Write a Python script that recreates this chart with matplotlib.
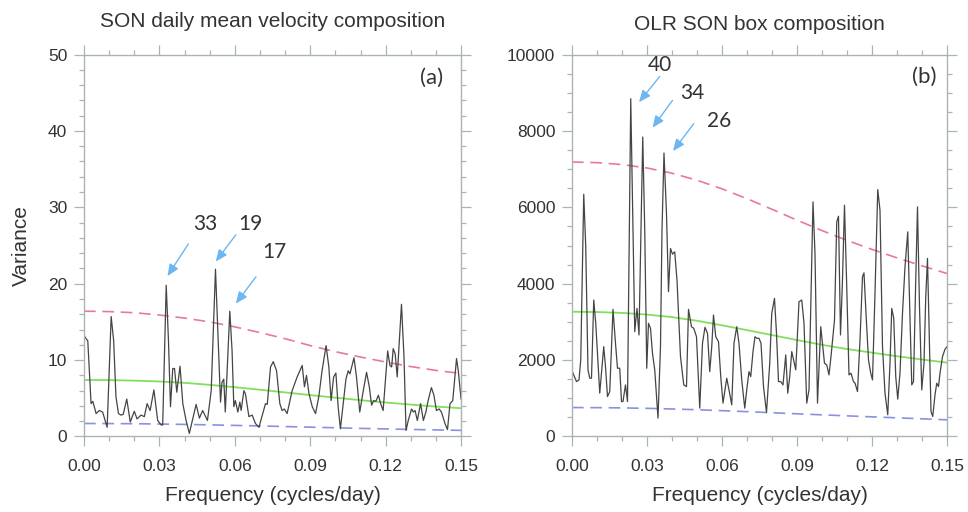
import numpy as np
import matplotlib
matplotlib.use('Agg')
import matplotlib.pyplot as plt
from matplotlib.ticker import MultipleLocator, FormatStrFormatter

# panel (a): SON daily mean velocity composition
freq_a = [0.0000, 0.0015, 0.0028, 0.0035, 0.0048, 0.0061, 0.0074, 0.0092, 0.0108, 0.0118,
          0.0127, 0.0137, 0.0147, 0.0156, 0.0170, 0.0184, 0.0200, 0.0211, 0.0227, 0.0240,
          0.0251, 0.0263, 0.0278, 0.0293, 0.0307, 0.0313, 0.0327, 0.0336, 0.0344, 0.0353,
          0.0360, 0.0369, 0.0382, 0.0393, 0.0406, 0.0419, 0.0446, 0.0459, 0.0472, 0.0491,
          0.0506, 0.0523, 0.0536, 0.0543, 0.0549, 0.0556, 0.0562, 0.0580, 0.0589, 0.0596,
          0.0602, 0.0612, 0.0620, 0.0625, 0.0636, 0.0642, 0.0656, 0.0669, 0.0682, 0.0696,
          0.0713, 0.0722, 0.0729, 0.0742, 0.0753, 0.0766, 0.0779, 0.0788, 0.0797, 0.0808,
          0.0828, 0.0848, 0.0868, 0.0877, 0.0885, 0.0895, 0.0908, 0.0921, 0.0934, 0.0947,
          0.0963, 0.0974, 0.0983, 0.0993, 0.1002, 0.1011, 0.1020, 0.1031, 0.1042, 0.1051,
          0.1058, 0.1074, 0.1084, 0.1097, 0.1111, 0.1124, 0.1135, 0.1144, 0.1153, 0.1161,
          0.1171, 0.1180, 0.1190, 0.1200, 0.1208, 0.1217, 0.1224, 0.1230, 0.1238, 0.1246,
          0.1263, 0.1273, 0.1281, 0.1290, 0.1303, 0.1310, 0.1317, 0.1326, 0.1339, 0.1350,
          0.1360, 0.1369, 0.1382, 0.1392, 0.1402, 0.1413, 0.1422, 0.1436, 0.1446, 0.1456,
          0.1467, 0.1482, 0.1489, 0.1500]
var_a = [13.2, 12.5, 4.3, 4.6, 3.0, 3.4, 3.2, 1.2, 15.7, 12.5,
         5.2, 3.0, 2.8, 2.9, 4.9, 1.9, 3.3, 2.3, 2.8, 2.6,
         4.3, 3.4, 6.1, 2.1, 1.5, 1.5, 19.8, 12.5, 3.9, 8.9,
         8.9, 5.8, 9.2, 4.3, 2.1, 0.4, 4.2, 2.4, 3.4, 2.1,
         6.0, 21.9, 10.4, 4.5, 7.1, 7.5, 3.2, 16.4, 11.2, 3.9,
         4.7, 3.2, 4.5, 3.4, 6.0, 5.6, 2.6, 2.8, 1.7, 1.2,
         3.2, 4.3, 4.2, 9.1, 9.8, 8.6, 4.3, 3.4, 3.6, 3.0,
         6.0, 7.8, 9.3, 6.5, 8.0, 5.6, 3.9, 3.0, 5.2, 8.6,
         11.9, 9.1, 4.7, 7.8, 8.3, 3.9, 1.0, 4.3, 7.5, 8.6,
         8.2, 10.3, 7.8, 3.2, 6.0, 8.4, 6.5, 4.1, 4.7, 4.6,
         5.4, 4.3, 3.4, 7.8, 11.2, 9.3, 9.1, 11.5, 10.8, 7.8,
         17.3, 10.4, 0.8, 2.1, 3.6, 3.2, 3.4, 2.1, 4.3, 2.1,
         3.2, 4.7, 6.4, 5.4, 3.4, 3.6, 3.2, 1.7, 0.9, 4.3,
         4.7, 10.2, 8.6, 4.9]

# panel (b): OLR SON box composition
freq_b = [0.0000, 0.0018, 0.0028, 0.0035, 0.0047, 0.0055, 0.0064, 0.0071, 0.0078, 0.0087,
          0.0095, 0.0111, 0.0127, 0.0134, 0.0142, 0.0151, 0.0164, 0.0174, 0.0182, 0.0191,
          0.0198, 0.0204, 0.0214, 0.0222, 0.0235, 0.0242, 0.0251, 0.0260, 0.0268, 0.0283,
          0.0291, 0.0299, 0.0306, 0.0314, 0.0322, 0.0331, 0.0344, 0.0354, 0.0360, 0.0368,
          0.0378, 0.0386, 0.0394, 0.0402, 0.0411, 0.0420, 0.0434, 0.0447, 0.0458, 0.0466,
          0.0478, 0.0487, 0.0498, 0.0511, 0.0522, 0.0532, 0.0542, 0.0551, 0.0559, 0.0566,
          0.0575, 0.0586, 0.0595, 0.0604, 0.0619, 0.0628, 0.0639, 0.0648, 0.0659, 0.0668,
          0.0679, 0.0691, 0.0699, 0.0708, 0.0715, 0.0724, 0.0732, 0.0739, 0.0748, 0.0756,
          0.0766, 0.0778, 0.0791, 0.0799, 0.0810, 0.0818, 0.0826, 0.0835, 0.0844, 0.0855,
          0.0863, 0.0871, 0.0879, 0.0888, 0.0895, 0.0908, 0.0919, 0.0928, 0.0939, 0.0948,
          0.0964, 0.0972, 0.0982, 0.0995, 0.1010, 0.1019, 0.1028, 0.1036, 0.1050, 0.1059,
          0.1066, 0.1074, 0.1082, 0.1090, 0.1099, 0.1108, 0.1116, 0.1126, 0.1132, 0.1142,
          0.1152, 0.1162, 0.1168, 0.1176, 0.1186, 0.1195, 0.1202, 0.1212, 0.1223, 0.1232,
          0.1242, 0.1252, 0.1263, 0.1272, 0.1279, 0.1287, 0.1295, 0.1303, 0.1312, 0.1322,
          0.1332, 0.1343, 0.1352, 0.1359, 0.1366, 0.1375, 0.1382, 0.1390, 0.1399, 0.1408,
          0.1415, 0.1422, 0.1430, 0.1436, 0.1443, 0.1452, 0.1459, 0.1466, 0.1472, 0.1482,
          0.1492, 0.1500]
var_b = [1720, 1437, 1481, 2004, 6342, 4965, 1743, 1526, 1526, 3572,
         2963, 1134, 2352, 1829, 1045, 1176, 3329, 2440, 1787, 1787,
         915, 915, 1351, 915, 8843, 6185, 2744, 3355, 2657, 7839,
         5401, 1787, 2963, 2832, 2179, 1743, 481, 2352, 5401, 7421,
         5837, 3789, 4923, 4774, 4834, 4095, 2090, 1351, 1307, 3329,
         2874, 2832, 2613, 742, 2440, 2858, 2702, 1698, 2352, 3180,
         2613, 2482, 1568, 873, 1526, 1220, 828, 2440, 2874, 2440,
         1481, 742, 1220, 1698, 1568, 2221, 2613, 2571, 2571, 2440,
         1307, 627, 1918, 3224, 3616, 2702, 1437, 1437, 1351, 2135,
         1134, 1568, 2221, 1960, 1743, 3528, 3572, 2963, 873, 1220,
         6141, 4792, 873, 2874, 1918, 1874, 1612, 2090, 3049, 5618,
         5767, 2657, 4095, 6054, 3920, 1612, 1657, 1437, 1400, 1176,
         2527, 4181, 4285, 3224, 2004, 1657, 1481, 3747, 6465, 5924,
         2352, 1134, 567, 1918, 3355, 3094, 1568, 977, 1657, 3224,
         4442, 5357, 3049, 1351, 1437, 4095, 6010, 3397, 1220, 1918,
         3658, 4662, 2352, 653, 523, 1090, 1395, 1307, 1657, 2090,
         2284, 2352]

# red-noise spectrum and its confidence curves, read at 0.01 steps
curve_f = [0.00, 0.01, 0.02, 0.03, 0.04, 0.05, 0.06, 0.07, 0.08,
           0.09, 0.10, 0.11, 0.12, 0.13, 0.14, 0.15]
upper_a = [16.4, 16.35, 16.2, 15.9, 15.5, 15.0, 14.35, 13.6, 12.8,
           11.9, 11.1, 10.4, 9.75, 9.15, 8.65, 8.25]
mean_a = [7.40, 7.38, 7.31, 7.20, 7.02, 6.76, 6.45, 6.12, 5.77,
          5.42, 5.08, 4.75, 4.45, 4.17, 3.92, 3.70]
lower_a = [1.70, 1.69, 1.67, 1.63, 1.58, 1.52, 1.45, 1.38, 1.30,
           1.22, 1.14, 1.06, 0.99, 0.92, 0.86, 0.80]
upper_b = [7186, 7169, 7119, 7030, 6893, 6709, 6483, 6226, 5948,
           5664, 5391, 5134, 4898, 4677, 4467, 4267]
mean_b = [3266, 3258, 3235, 3192, 3125, 3030, 2910, 2785, 2655,
          2525, 2400, 2290, 2195, 2100, 2015, 1934]
lower_b = [758, 755, 748, 737, 720, 700, 676, 650, 622,
           594, 566, 540, 514, 488, 462, 436]

xticks = [0.00, 0.03, 0.06, 0.09, 0.12, 0.15]

red = '#e77b93'
green = '#82df5e'
blue = '#8a90e2'
arrow_col = '#6cb6f2'
frame_col = '#abb4b4'
text_col = '#333333'
spec_col = '#454545'

fig = plt.figure(figsize=(9.68, 5.12), dpi=100)
ax_a = fig.add_axes([0.0868, 0.1475, 0.3895, 0.746])
ax_b = fig.add_axes([0.5909, 0.1475, 0.3874, 0.746])


def style_axes(ax, ymax, ymajor, yminor):
    ax.set_xlim(0, 0.15)
    ax.set_ylim(0, ymax)
    ax.set_xticks(xticks)
    ax.xaxis.set_major_formatter(FormatStrFormatter('%.2f'))
    ax.xaxis.set_minor_locator(MultipleLocator(0.01))
    ax.yaxis.set_major_locator(MultipleLocator(ymajor))
    ax.yaxis.set_minor_locator(MultipleLocator(yminor))
    for sp in ax.spines.values():
        sp.set_color(frame_col)
        sp.set_linewidth(1.0)
    ax.tick_params(which='both', direction='out', color=frame_col, top=True, right=True,
                   labelcolor=text_col, labelsize=12.5, width=0.9)
    ax.tick_params(which='major', length=7)
    ax.tick_params(which='minor', length=3.5)
    ax.tick_params(axis='x', which='major', pad=9)
    ax.tick_params(axis='y', which='major', pad=5)
    for lab in ax.get_xticklabels() + ax.get_yticklabels():
        lab.set_family('Liberation Sans')
    ax.set_xlabel('Frequency (cycles/day)', fontsize=15, color=text_col,
                  family='Liberation Sans', labelpad=9)


def annotate_peak(ax, label, text_xy, tail_xy, tip_xy):
    ax.text(text_xy[0], text_xy[1], label, fontsize=15, color=text_col, family='Lato',
            ha='center', va='center')
    ax.annotate('', xy=tip_xy, xytext=tail_xy,
                arrowprops=dict(arrowstyle='-|>,head_length=0.7,head_width=0.3',
                                color=arrow_col, lw=1.0, shrinkA=0, shrinkB=0))


# panel (a)
ax_a.plot(curve_f, upper_a, color=red, lw=1.2, dashes=(7, 4))
ax_a.plot(curve_f, mean_a, color=green, lw=1.3)
ax_a.plot(curve_f, lower_a, color=blue, lw=1.2, dashes=(7, 4))
ax_a.plot(freq_a, var_a, color=spec_col, lw=0.9)
style_axes(ax_a, 50, 10, 2)
ax_a.set_ylabel('Variance', fontsize=15, color=text_col, family='Liberation Sans', labelpad=12)
ax_a.set_title('SON daily mean velocity composition', fontsize=15, color=text_col,
               family='Liberation Sans', pad=20)
annotate_peak(ax_a, '33', (0.0482, 27.8), (0.0415, 25.2), (0.0332, 21.0))
annotate_peak(ax_a, '19', (0.0661, 27.8), (0.0604, 26.4), (0.0524, 22.9))
annotate_peak(ax_a, '17', (0.0757, 24.1), (0.0684, 20.9), (0.0604, 17.4))
ax_a.text(0.1382, 46.9, '(a)', fontsize=16, color=text_col, family='Lato',
          ha='center', va='center')

# panel (b)
ax_b.plot(curve_f, upper_b, color=red, lw=1.2, dashes=(7, 4))
ax_b.plot(curve_f, mean_b, color=green, lw=1.3)
ax_b.plot(curve_f, lower_b, color=blue, lw=1.2, dashes=(7, 4))
ax_b.plot(freq_b, var_b, color=spec_col, lw=0.9)
style_axes(ax_b, 10000, 2000, 500)
ax_b.set_title('OLR SON box composition', fontsize=15, color=text_col,
               family='Liberation Sans', pad=18)
annotate_peak(ax_b, '40', (0.0351, 9726), (0.0351, 9425), (0.0268, 8754))
annotate_peak(ax_b, '34', (0.0483, 8994), (0.0402, 8798), (0.0322, 8085))
annotate_peak(ax_b, '26', (0.0587, 8262), (0.0487, 8189), (0.0404, 7473))
ax_b.text(0.1411, 9425, '(b)', fontsize=16, color=text_col, family='Lato',
          ha='center', va='center')

fig.savefig('out.png', dpi=100)
